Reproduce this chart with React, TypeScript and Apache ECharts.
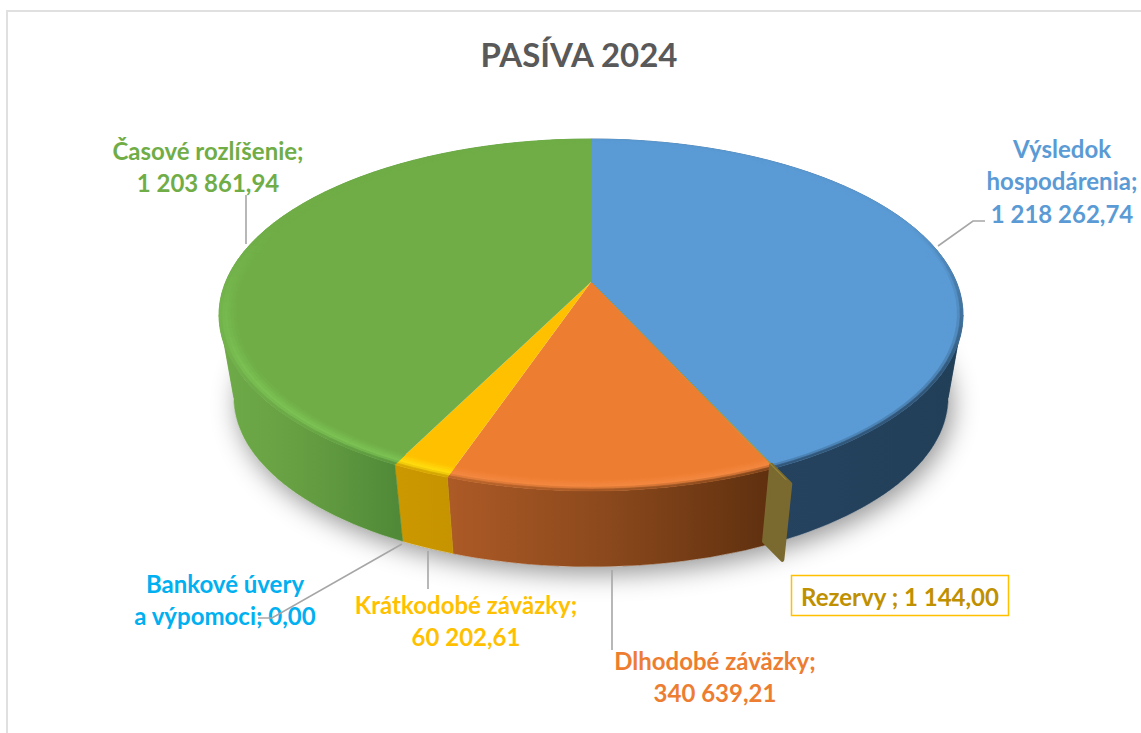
import React, { useEffect, useRef } from "react";
import * as echarts from "echarts";

const titleText = "PASÍVA 2024";
const sliceNames = ["Výsledok hospodárenia", "Rezervy", "Dlhodobé záväzky", "Krátkodobé záväzky", "Bankové úvery a výpomoci", "Časové rozlíšenie"];
const sliceValues = [1218262.74, 1144.0, 340639.21, 60202.61, 0.0, 1203861.94];
const topColors = ["#5b9bd5", "#a89438", "#ed7d31", "#ffc000", "#00b0f0", "#70ad47"];
const rimColors = ["#5b9bd5", "#a89438", "#f58a42", "#ffdf10", "#00b0f0", "#7cc455"];
const labelColors = ["#5b9bd5", "#bf9000", "#ed7d31", "#ffc000", "#00b0f0", "#70ad47"];
const wallStops: [number, string][][] = [
  [[700, "#264462"], [963, "#223f58"]],
  [[700, "#7a6a30"], [800, "#7a6a30"]],
  [[450, "#ac5a26"], [610, "#8a481c"], [770, "#5f300f"]],
  [[398, "#cc9800"], [452, "#c69400"]],
  [[398, "#0088b8"], [400, "#0088b8"]],
  [[219, "#6fab49"], [300, "#669f42"], [398, "#508a38"]],
];

const fmt = (v: number) =>
  v.toFixed(2).replace(".", ",").replace(/\B(?=(\d{3})+(?!\d))/g, " ");

const CX = 591, TOP_CY = 282, BOT_CY = 366, BOT_S = 0.96, A = 169.8, B = 365.4, T = 0.1875;
const X0 = 219, X1 = 963;
const total = sliceValues.reduce((a, b) => a + b, 0);
const starts: number[] = [];
sliceValues.reduce((acc, v, i) => {
  starts[i] = acc;
  return acc + v;
}, 0);
const ang = (v: number) => (v / total) * Math.PI * 2;
const SILHOUETTE = [Math.PI - Math.acos(T), Math.PI + Math.acos(T)];

function proj(th: number, r: number, bottom = false): number[] {
  const X = r * Math.sin(th), Y = r * Math.cos(th);
  const d = 1 + T * Y;
  const s = bottom ? BOT_S : 1;
  const cy = bottom ? BOT_CY : TOP_CY;
  return [CX + (s * B * X) / d, cy - (s * A * Y) / d];
}
function hex(c: string) {
  return [1, 3, 5].map((i) => parseInt(c.slice(i, i + 2), 16));
}
function mix(a: string, b: string, t: number) {
  const p = hex(a), q = hex(b);
  const o = p.map((v, i) => Math.round(v + (q[i] - v) * t));
  return "#" + o.map((v) => v.toString(16).padStart(2, "0")).join("");
}
function wallColorAt(i: number, x: number) {
  const st = wallStops[i];
  if (x <= st[0][0]) return st[0][1];
  for (let k = 1; k < st.length; k++) {
    if (x <= st[k][0]) return mix(st[k - 1][1], st[k][1], (x - st[k - 1][0]) / (st[k][0] - st[k - 1][0]));
  }
  return st[st.length - 1][1];
}
function wallGradient(i: number) {
  const stops = wallStops[i].map(([x, color]) => ({ offset: Math.max(0, Math.min(1, (x - X0) / (X1 - X0))), color }));
  return new echarts.graphic.LinearGradient(X0, 0, X1, 0, stops, true);
}
function arcPts(a0: number, a1: number, r: number, bottom = false) {
  const n = Math.max(2, Math.ceil((a1 - a0) / 0.03));
  const pts: number[][] = [];
  for (let k = 0; k <= n; k++) pts.push(proj(a0 + ((a1 - a0) * k) / n, r, bottom));
  return pts;
}

const renderWall = (params: any, api: any) => {
  const i = api.value(0), v = api.value(1);
  if (!v) return { type: "group", children: [] };
  const a0 = ang(starts[i]), a1 = a0 + ang(v);
  const children: any[] = [];
  if (i === 0) {
    children.push({
      type: "polygon",
      shape: { points: arcPts(0, Math.PI * 2, 1.0, true) },
      style: { fill: "#ffffff", shadowBlur: 26, shadowColor: "rgba(0,0,0,0.42)", shadowOffsetX: 4, shadowOffsetY: 7 },
    });
  }
  // split where the wall turns away, so that its front and back do not cancel out
  const cuts = [a0, ...SILHOUETTE.filter((c) => c > a0 && c < a1), a1];
  for (let k = 0; k + 1 < cuts.length; k++) {
    const pts = [...arcPts(cuts[k], cuts[k + 1], 1), ...arcPts(cuts[k], cuts[k + 1], 1, true).reverse()];
    children.push({ type: "polygon", shape: { points: pts }, style: { fill: wallGradient(i), stroke: wallGradient(i), lineWidth: 0.5 } });
  }
  return { type: "group", children };
};

const R0 = 0.955, BANDS = 6, STEP = 0.05, PEAK = 0.66;
const renderTop = (params: any, api: any) => {
  const i = api.value(0), v = api.value(1);
  if (!v) return { type: "group", children: [] };
  const a0 = ang(starts[i]), a1 = a0 + ang(v);
  const base = topColors[i], rim = rimColors[i];
  const thin = a1 - a0 < 0.02;
  const children: any[] = [
    {
      type: "polygon",
      shape: { points: [[CX, TOP_CY], ...arcPts(a0, a1, 1)] },
      style: { fill: base, stroke: thin ? base : "none", lineWidth: thin ? 1 : 0 },
    },
  ];
  if (!thin) {
    const n = Math.ceil((a1 - a0) / STEP);
    for (let k = 0; k < n; k++) {
      const s0 = a0 + ((a1 - a0) * k) / n, s1 = a0 + ((a1 - a0) * (k + 1)) / n;
      const th = (s0 + s1) / 2;
      const f = Math.max(0, Math.min(1, (0.35 - Math.cos(th)) / 0.9));
      const wall = wallColorAt(i, proj(th, 1)[0]);
      for (let b = 0; b < BANDS; b++) {
        const t = (b + 0.5) / BANDS;
        const r0 = R0 + ((1 - R0) * b) / BANDS, r1 = R0 + ((1 - R0) * (b + 1)) / BANDS;
        const hi = mix(base, rim, f);
        const c = t < PEAK ? mix(base, hi, t / PEAK) : mix(hi, wall, ((t - PEAK) / (1 - PEAK)) * (0.04 + 0.96 * f));
        children.push({
          type: "polygon",
          shape: { points: [proj(s0, r0), proj(s1, r0), proj(s1, r1), proj(s0, r1)] },
          style: { fill: c, stroke: c, lineWidth: 0.6 },
        });
      }
    }
  }
  return { type: "group", children };
};

// the hair-thin slice is pulled out of the pie: its cut face stays visible
const renderFace = (params: any, api: any) => {
  const i = api.value(0), v = api.value(1);
  const a = ang(v);
  if (!v || a > 0.02) return { type: "group", children: [] };
  const th = ang(starts[i]) + a / 2;
  const pts = [proj(th, 0.985), proj(th, 1.07), proj(th, 1.07, true), proj(th, 0.985, true)];
  return {
    type: "group",
    children: [
      { type: "polygon", shape: { points: pts }, style: { fill: wallStops[i][0][1], stroke: wallStops[i][0][1], lineWidth: 4, lineJoin: "round" } },
      { type: "polyline", shape: { points: [proj(th, 0.975), proj(th, 1.05)] }, style: { fill: "none", stroke: topColors[i], lineWidth: 1, lineCap: "round" } },
    ],
  };
};

const label = (x: number, y: number, lines: string[], color: string) => ({
  type: "text",
  z: 100,
  style: {
    x,
    y,
    text: lines.join("\n"),
    fill: color,
    font: 'bold 24px Lato, Carlito, "Open Sans", sans-serif',
    lineHeight: 32.5,
    textAlign: "center",
    textVerticalAlign: "top",
  },
});
const leader = (points: number[][]) => ({
  type: "polyline",
  z: 101,
  shape: { points },
  style: { fill: "none", stroke: "#a6a6a6", lineWidth: 1.6 },
});

export default function App() {
  const ref = useRef<HTMLDivElement>(null);
  useEffect(() => {
    const chart = echarts.init(ref.current!, null, { renderer: "svg" });
    const data = sliceValues.map((v, i) => ({ name: sliceNames[i], value: [i, v] }));
    chart.setOption({
      animation: false,
      backgroundColor: "#ffffff",
      title: {
        text: titleText,
        left: 574,
        top: 32,
        textAlign: "center",
        textStyle: { color: "#595959", fontFamily: "Lato, Carlito, sans-serif", fontWeight: "bold", fontSize: 33 },
      },
      graphic: [
        { type: "polyline", z: 1, shape: { points: [[7, 733], [7, 11], [1141, 11]] }, style: { fill: "none", stroke: "#e0e0e0", lineWidth: 2 } },
        leader([[938, 246], [973, 221], [985, 221]]),
        leader([[246, 244], [246, 195]]),
        leader([[402, 544], [272, 618], [258, 618]]),
        leader([[428, 551], [428, 589]]),
        leader([[612, 570], [612, 650]]),
        label(1062, 132, ["Výsledok", "hospodárenia;", fmt(sliceValues[0])], labelColors[0]),
        label(208, 134, ["Časové rozlíšenie;", fmt(sliceValues[5])], labelColors[5]),
        label(225, 567, ["Bankové úvery", "a výpomoci; " + fmt(sliceValues[4])], labelColors[4]),
        label(466, 588, ["Krátkodobé záväzky;", fmt(sliceValues[3])], labelColors[3]),
        label(715, 644, ["Dlhodobé záväzky;", fmt(sliceValues[2])], labelColors[2]),
        { type: "rect", z: 100, shape: { x: 791.5, y: 575.5, width: 217, height: 40 }, style: { fill: "#ffffff", stroke: "#ffc000", lineWidth: 1.5 } },
        label(900, 580, ["Rezervy ; " + fmt(sliceValues[1])], labelColors[1]),
      ],
      series: [
        { type: "custom", coordinateSystem: "none", z: 2, silent: true, clip: false, renderItem: renderWall, data },
        { type: "custom", coordinateSystem: "none", z: 3, silent: true, clip: false, renderItem: renderTop, data },
        { type: "custom", coordinateSystem: "none", z: 4, silent: true, clip: false, renderItem: renderFace, data },
      ],
    });
    return () => chart.dispose();
  }, []);
  return <div ref={ref} style={{ position: "fixed", left: 0, top: 0, width: 1141, height: 733 }} />;
}
